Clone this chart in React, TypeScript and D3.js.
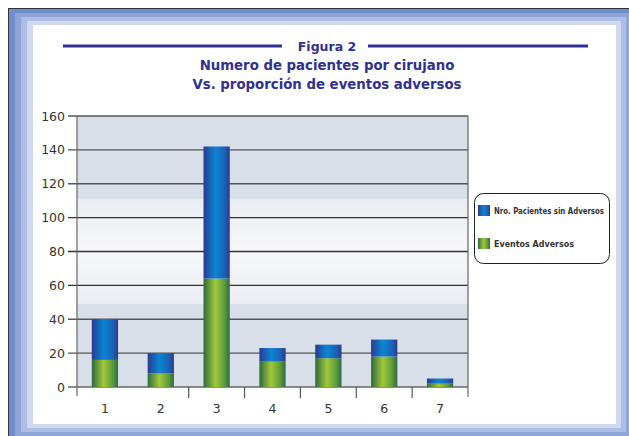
import React from "react";
import * as d3 from "d3";

// values
const categories = ["1", "2", "3", "4", "5", "6", "7"];
const eventosAdversos = [16, 8, 64, 15, 17, 18, 2];
const sinAdversos = [24, 12, 78, 8, 8, 10, 3];
const yTicks = [0, 20, 40, 60, 80, 100, 120, 140, 160];
const legendLabels = ["Nro. Pacientes sin Adversos", "Eventos Adversos"];
const titleLines = ["Numero de pacientes por cirujano", "Vs. proporción de eventos adversos"];

const W = 629;
const H = 436;
const plot = { left: 77, right: 468, top: 116, bottom: 387 };
const navy = "#2e3192";

export default function App() {
  const x = d3.scaleBand().domain(categories).range([plot.left, plot.right]).paddingInner(0.53).paddingOuter(0.265);
  const xb = d3.scaleLinear().domain([0, categories.length]).range([plot.left, plot.right]);
  const y = d3.scaleLinear().domain([0, 160]).range([plot.bottom, plot.top]);

  const stacked = d3.stack<any>().keys(["green", "blue"])(
    categories.map((c, i) => ({ cat: c, green: eventosAdversos[i], blue: sinAdversos[i] }))
  );

  // frame bands (outer to inner)
  const bands = ["#6f8ccc", "#8fa5d8", "#aebde3", "#d0d8ee"];

  return (
    <div style={{ position: "fixed", left: 0, top: 0 }}>
      <svg width={W} height={H} style={{ display: "block", fontFamily: "DejaVu Sans, sans-serif" }}>
        <defs>
          <linearGradient id="bg" x1="0" y1="0" x2="0" y2="1">
            <stop offset="0" stopColor="#d9dfe8" />
            <stop offset="0.306" stopColor="#d9dfe8" />
            <stop offset="0.306" stopColor="#e9ecf2" />
            <stop offset="0.5" stopColor="#f7f7f9" />
            <stop offset="0.694" stopColor="#e9ecf2" />
            <stop offset="0.694" stopColor="#d9dfe8" />
            <stop offset="1" stopColor="#d9dfe8" />
          </linearGradient>
          <linearGradient id="blueG" x1="0" y1="0" x2="1" y2="0">
            <stop offset="0" stopColor="#2b3991" />
            <stop offset="0.45" stopColor="#0a86d2" />
            <stop offset="0.8" stopColor="#1a62b5" />
            <stop offset="1" stopColor="#2e3a8e" />
          </linearGradient>
          <linearGradient id="greenG" x1="0" y1="0" x2="1" y2="0">
            <stop offset="0" stopColor="#2b6a3e" />
            <stop offset="0.45" stopColor="#a2c83a" />
            <stop offset="0.8" stopColor="#5b9a3a" />
            <stop offset="1" stopColor="#2d6a46" />
          </linearGradient>
        </defs>

        <rect width={W} height={H} fill="#ffffff" />
        {/* frame */}
        <line x1={8.5} y1={8} x2={8.5} y2={H} stroke="#333" strokeWidth={1} />
        <line x1={8} y1={8.5} x2={W} y2={8.5} stroke="#333" strokeWidth={1} />
        {bands.map((c, i) => (
          <rect key={c} x={9 + i * 6} y={9 + i * 4} width={636 - 5 * i - (9 + i * 6)} height={440 - 4 * i - (9 + i * 4)} fill={c} />
        ))}
        <rect x={33} y={25} width={616 - 33} height={424 - 25} fill="#ffffff" />

        {/* title */}
        <line x1={63} x2={282} y1={46} y2={46} stroke={navy} strokeWidth={3} />
        <line x1={368} x2={588} y1={46} y2={46} stroke={navy} strokeWidth={3} />
        <text x={327} y={51} textAnchor="middle" fontWeight="bold" fontSize={12.5} fill={navy}>Figura 2</text>
        {titleLines.map((t, i) => (
          <text key={t} x={327} y={70 + i * 19} textAnchor="middle" fontWeight="bold" fontSize={13.3} fill={navy}>{t}</text>
        ))}

        {/* plot background */}
        <rect x={plot.left} y={plot.top} width={plot.right - plot.left} height={plot.bottom - plot.top} fill="url(#bg)" />

        {/* grid + y labels */}
        {yTicks.map((t) => (
          <g key={t}>
            <line x1={68} x2={plot.right} y1={y(t)} y2={y(t)} stroke={t === 0 ? "#666" : t >= 60 && t <= 100 ? "#333" : "#555"} strokeWidth={1.4} />
            <text x={65} y={y(t) + 4.5} textAnchor="end" fontSize={12.5} fill="#333">{t}</text>
          </g>
        ))}

        {/* bars */}
        {stacked.map((layer) => (
          <g key={layer.key} fill={layer.key === "green" ? "url(#greenG)" : "url(#blueG)"}>
            {layer.map((d, i) => (
              <rect key={i} x={x(categories[i])} width={x.bandwidth()} y={y(d[1])} height={y(d[0]) - y(d[1])} />
            ))}
          </g>
        ))}

        {/* axes */}
        <line x1={plot.left} x2={plot.left} y1={plot.top} y2={396} stroke="#666" strokeWidth={1.2} />
        <line x1={plot.right} x2={plot.right} y1={plot.top} y2={397} stroke="#666" strokeWidth={1.2} />
        {d3.range(1, categories.length).filter((i) => i !== 1).map((i) => (
          <line key={i} x1={xb(i)} x2={xb(i)} y1={plot.bottom} y2={398} stroke="#555" strokeWidth={1.2} />
        ))}
        {categories.map((c) => (
          <text key={c} x={x(c)! + x.bandwidth() / 2} y={413} textAnchor="middle" fontSize={12.5} fill="#333">{c}</text>
        ))}

        {/* legend */}
        <rect x={474.5} y={193.5} width={135} height={70} rx={9} fill="#ffffff" stroke="#222" strokeWidth={1} />
        {legendLabels.map((l, i) => (
          <g key={l} transform={`translate(478, ${205 + i * 33})`}>
            <rect width={12} height={11} fill={i === 0 ? "url(#blueG)" : "url(#greenG)"} />
            <text x={16} y={8.5} fontSize={8.4} fontWeight="bold" fill="#333" textLength={i === 0 ? 110 : 80} lengthAdjust="spacingAndGlyphs">{l}</text>
          </g>
        ))}
      </svg>
    </div>
  );
}
